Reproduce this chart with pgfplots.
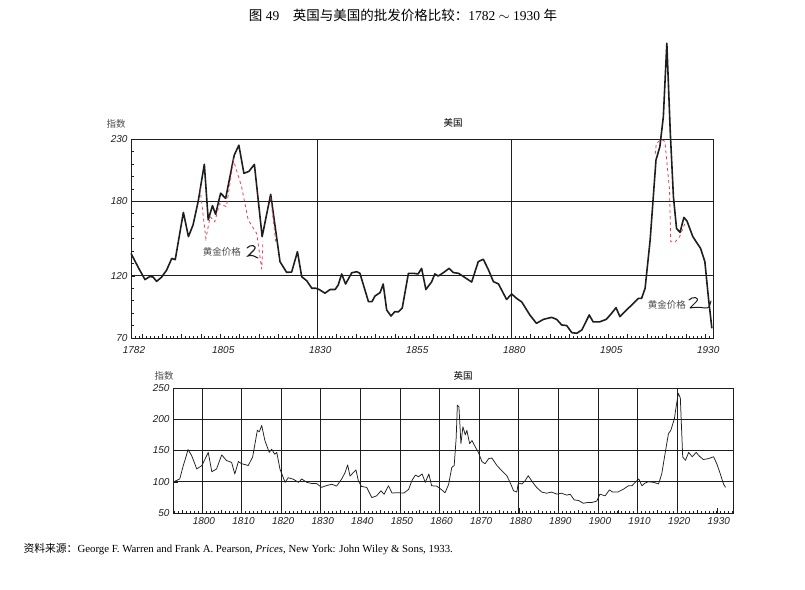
\documentclass[border=0pt]{standalone}
\usepackage{fontspec}
\setmainfont{Liberation Serif}
\setsansfont{Liberation Sans}
\newfontfamily\cjk{Noto Sans CJK SC}
\usepackage{pgfplots}
\pgfplotsset{compat=1.18}

\definecolor{ink}{HTML}{1E1E1E}
\definecolor{gold}{HTML}{E0404F}

\pgfplotsset{
  chart/.style={
    scale only axis, anchor=south west, clip=false,
    axis line style={ink, line width=0.9pt},
    tick pos=left, tick align=inside,
    tick style={ink, line width=0.5pt},
    major tick length=4pt, minor tick length=2.5pt,
    ymajorgrids, grid style={ink, line width=0.8pt},
    ticklabel style={font=\fontsize{10}{10}\selectfont\sffamily\itshape, text=ink},
    /pgf/number format/assume math mode=true,
    /pgf/number format/1000 sep={},
  },
}

\begin{document}
\begin{tikzpicture}
\useasboundingbox (0pt,0pt) rectangle (805pt,-589pt);

% title and source
\node at (403pt,-15pt) {\fontsize{13.5}{13.5}\selectfont{\cjk 图} 49\quad{\cjk 英国与美国的批发价格比较：}1782 $\sim$ 1930 {\cjk 年}};
\node[anchor=west] at (20pt,-549pt) {\fontsize{10.8}{10.8}\selectfont{\cjk 资料来源：}George F. Warren and Frank A. Pearson, \textit{Prices}, New York: John Wiley \& Sons, 1933.};

% ---------- United States ----------
\begin{axis}[chart,
  at={(131pt,-338pt)}, width=582pt, height=199pt,
  xmin=1782, xmax=1932, ymin=70, ymax=230,
  ytick={70,120,180,230},
  minor ytick={80,90,...,220},
  xtick={1785,1790,...,1930}, xticklabels={},
  minor xtick={1783,...,1931},
  extra x ticks={1782,1805,1830,1855,1880,1905,1930},
  extra x tick style={major tick length=0pt},
  xticklabel style={yshift=-5pt, xshift=3pt},
]
\draw[ink, line width=0.8pt] (axis cs:1830,70) -- (axis cs:1830,230);
\draw[ink, line width=0.8pt] (axis cs:1880,70) -- (axis cs:1880,230);

\addplot[ink, line width=1.6pt, line join=round] coordinates {
(1782,138) (1783,132) (1784,126) (1785.6,117) (1786.9,119.5) (1787.7,119)
(1788.6,115.5) (1789.9,119) (1791.2,124.7) (1792.5,134) (1793.4,133)
(1795.5,171) (1796.8,151.5) (1798,161) (1799.3,179.6) (1800.9,209.7)
(1801.9,165) (1803,176.4) (1803.8,169.5) (1805.1,186.4) (1806.4,182.3)
(1807.2,195) (1808.6,217) (1809.8,225) (1811.1,202.4) (1812.4,204)
(1813.8,209.6) (1815.8,151.5) (1818,185.5) (1820.4,131.4) (1822.1,122.8)
(1823.4,123) (1824.9,139.4) (1826,119.3) (1827.3,116) (1828.6,110)
(1829.6,110) (1830.5,109) (1832,106) (1833.3,109) (1834.6,109)
(1835.4,112.6) (1836.3,121.5) (1837.3,113.4) (1838.9,122.5) (1840.2,123.3)
(1841,122) (1843.2,99.2) (1844.1,99.2) (1844.9,103.8) (1846.2,106.5)
(1847,113.4) (1847.9,92.5) (1849,87.7) (1850,91.2) (1850.9,91)
(1851.9,94) (1853.5,122) (1854.8,122) (1856,121.5) (1856.9,126)
(1858,109) (1859.5,115.3) (1860.3,121.5) (1861.2,119.8) (1862.5,122.5)
(1864,126) (1865.1,122.6) (1866.4,122) (1867.7,119.4) (1869.8,115)
(1871.5,131.4) (1872.8,133.3) (1874.1,125) (1875.4,115.3) (1876.7,113.5)
(1878.8,101) (1880.1,105.4) (1881.4,101.8) (1882.7,99) (1883.5,95)
(1884.8,88.5) (1886.5,81.8) (1888.3,85) (1890.4,86.6) (1891.7,85)
(1893,80.5) (1894.3,80) (1895.6,74.3) (1896.9,73.8) (1898.2,76.5)
(1900.1,88.5) (1901.1,83) (1902.8,83) (1904.5,85) (1905.9,90)
(1907,94.4) (1908,87.2) (1909.7,92.5) (1911.5,97.9) (1912.8,101.9)
(1913.6,101.9) (1914.5,110) (1915.8,148.8) (1917.3,213) (1918.3,223.8)
(1919.2,247.9) (1920.1,307) (1921,234.5) (1921.8,183.6) (1922.6,158)
(1923.5,155) (1924.5,167) (1925.3,164) (1926.8,151.5) (1928.8,142)
(1929.9,131.4) (1930.8,103) (1931.7,77.8)
};

% gold prices
\addplot[gold, dashed, line width=0.8pt] coordinates {
(1799.8,190) (1801.3,150) (1802.4,167.5) (1803.6,163.5) (1804.8,178)
(1806.6,175.6) (1808.4,213) (1810.5,191.7) (1812.2,165) (1814.4,154)
(1815.7,125.3) (1816.0,148)
};
\addplot[gold, dashed, line width=0.8pt] coordinates {
(1818,183) (1819.3,147.5)
};
\addplot[gold, dashed, line width=0.8pt] coordinates {
(1917.1,218) (1917.4,226.5) (1918.7,229.7) (1919.6,228) (1920.8,189)
(1921.1,147.5) (1922.2,147) (1923.4,151.5) (1924.7,161.7)
};

\node[text=ink!80] at (axis cs:1805.4,139) {\cjk\fontsize{9.5}{9.5}\selectfont 黄金价格};
\node[text=ink!80] at (axis cs:1920.1,97) {\cjk\fontsize{9.5}{9.5}\selectfont 黄金价格};
\end{axis}

\draw[ink, line width=1.1pt, line cap=round]
  (247pt,-248pt) .. controls (250pt,-244pt) and (258pt,-245pt) .. (254pt,-250pt)
  -- (248pt,-256pt) .. controls (252pt,-255pt) .. (258pt,-258pt);
\draw[ink, line width=1pt, line cap=round, line join=round]
  (689pt,-300pt) .. controls (692pt,-296pt) and (701pt,-297pt) .. (696pt,-302pt)
  -- (690pt,-308pt) .. controls (697pt,-307pt) .. (705pt,-308pt)
  .. controls (709pt,-308pt) .. (711pt,-301pt);

\node at (453pt,-123pt) {\cjk\fontsize{9.5}{9.5}\selectfont 美国};
\node[text=ink!80] at (116pt,-124pt) {\cjk\fontsize{9.5}{9.5}\selectfont 指数};

% ---------- United Kingdom ----------
\begin{axis}[chart,
  at={(173pt,-513pt)}, width=560pt, height=125pt,
  xmin=1792.7, xmax=1934.1, ymin=50, ymax=250,
  ytick={50,100,...,250},
  xtick={1800,1810,...,1930},
  minor xtick={1793,...,1934},
  extra x ticks={1795,1805,...,1925},
  extra x tick labels={},
  extra x tick style={major tick length=3.5pt},
  major tick length=5pt,
  axis line style={ink, line width=0.8pt},
  grid style={ink, line width=0.6pt},
  xticklabel style={yshift=-1pt, xshift=2pt},
]
\pgfplotsinvokeforeach{1800,1810,...,1920}{
  \draw[ink, line width=0.6pt] (axis cs:#1,50) -- (axis cs:#1,250);
}
\addplot[ink, line width=0.75pt, line join=round] coordinates {
(1793.2,101) (1794.4,104.5) (1795.3,126) (1795.7,134) (1796.5,151.6)
(1797.4,142) (1798.7,120.5) (1800,126) (1801.6,147) (1802.5,116)
(1803.7,120.5) (1805,143) (1806.2,134) (1807.5,131) (1808.3,112.4)
(1809.2,132.3) (1810,129) (1811.7,126) (1812.8,139.5) (1814,182.3)
(1814.5,180) (1815.1,190) (1815.9,166) (1817,147) (1817.6,152)
(1818.4,144) (1818.9,147) (1819.7,120.5) (1821,99) (1821.8,106.5)
(1823.1,104) (1824.4,99) (1825.2,104.5) (1826.5,99) (1827.7,97.3)
(1829,97) (1830.2,91) (1831.5,94) (1832.8,96) (1834,93)
(1835.3,104.5) (1836.1,114) (1836.8,127) (1837.4,109) (1838.2,114.5)
(1838.9,119) (1839.5,101.5) (1840.3,92.5) (1841.6,91) (1842.9,74.7)
(1844.1,77.4) (1845.2,85.5) (1846,80) (1847.1,93.6) (1848,82)
(1849.3,82.4) (1851,82) (1852.2,87.8) (1853,101.6) (1853.9,110.7)
(1854.7,108) (1855.6,112.4) (1856.4,99) (1857.3,112.4) (1858,93.6)
(1859.3,93) (1860.4,87.8) (1861.4,82.4) (1862.3,95.8) (1862.7,109.7)
(1863.1,123) (1863.7,126) (1864.2,170) (1864.5,222.6) (1864.9,220)
(1865.4,161) (1865.9,188) (1866.5,175) (1866.9,182) (1867.6,161)
(1868.2,166) (1868.8,158.4) (1869.8,147) (1870.7,132.3) (1871.5,128.8)
(1872.4,137) (1873.2,138) (1874.5,126) (1875.7,117.7) (1877,109.7)
(1877.8,99) (1878.7,85.5) (1879.5,83.5) (1879.9,98) (1880.8,96.5)
(1881.6,101.6) (1882.4,109.7) (1883.3,101) (1884.5,91) (1885.8,83.5)
(1887,81.7) (1888.3,83.5) (1889.6,80.2) (1890.8,81.7) (1892.1,78.6)
(1893,80) (1894,71) (1895.1,70) (1896.3,65.6) (1897.3,66.7)
(1898.4,66.7) (1899.7,69.1) (1900.5,80.2) (1901.8,77.4) (1902.9,87)
(1903.7,83.5) (1905,83.5) (1906.4,88) (1907.7,93.6) (1908.6,93.6)
(1909.4,99) (1910.3,104.5) (1911.1,93.6) (1911.9,98) (1912.8,100)
(1914.1,99) (1915.3,96.5) (1916.1,112.4) (1917,147) (1917.8,177)
(1918.4,182.3) (1919.3,201) (1919.8,222.6) (1920.3,241.5) (1920.8,234)
(1921.4,139.5) (1922.1,134.3) (1922.9,147) (1923.8,140) (1924.8,147)
(1925.6,141) (1926.6,135.6) (1927.9,137) (1929.2,140) (1930,128.8)
(1930.9,112.4) (1931.7,96.5) (1932.2,91)
};
\end{axis}

\node at (463pt,-376pt) {\cjk\fontsize{9.5}{9.5}\selectfont 英国};
\node[text=ink!80] at (164pt,-376pt) {\cjk\fontsize{9.5}{9.5}\selectfont 指数};
\end{tikzpicture}
\end{document}
